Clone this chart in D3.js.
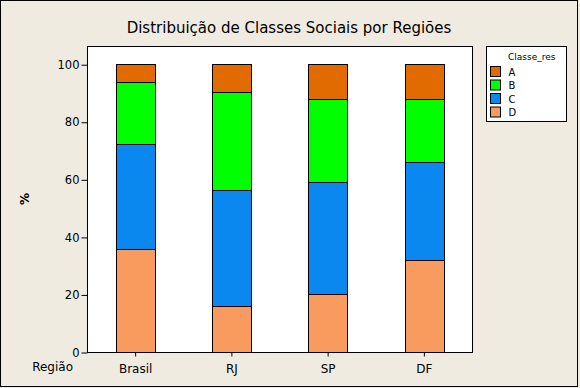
<!DOCTYPE html>
<html>
<head>
<meta charset="utf-8">
<script src="https://cdn.jsdelivr.net/npm/d3@7"></script>
<style>
  html, body { margin: 0; padding: 0; background: #F0EBE1; }
  svg { display: block; }
  text { font-family: "DejaVu Sans", sans-serif; fill: #000; }
</style>
</head>
<body>
<svg id="chart" width="580" height="388"></svg>
<script>
// ---- data ----
const regions = ["Brasil", "RJ", "SP", "DF"];
const classes = ["A", "B", "C", "D"];           // legend order
const stackOrder = ["D", "C", "B", "A"];        // bottom to top
const valuesA = [6.2, 9.7, 12.1, 12.1];
const valuesB = [21.6, 34.1, 28.9, 21.9];
const valuesC = [36.5, 40.2, 38.9, 34.0];
const valuesD = [35.7, 16.0, 20.1, 32.0];
const yTicks = [0, 20, 40, 60, 80, 100];
const colors = { A: "#E26B00", B: "#00FF00", C: "#0A88F0", D: "#F99A5E" };

const rows = regions.map((r, i) => ({ region: r, A: valuesA[i], B: valuesB[i], C: valuesC[i], D: valuesD[i] }));

(function () {
const svg = d3.select("#chart");
const W = 580, H = 388;

// background + outer frame
svg.append("rect").attr("x", 0).attr("y", 0).attr("width", W).attr("height", H).attr("fill", "#F0EBE1");
svg.append("rect").attr("x", 0.5).attr("y", 0.5).attr("width", 577).attr("height", 386)
  .attr("fill", "none").attr("stroke", "#000").attr("stroke-width", 1);

// plot area
const pL = 87, pR = 472, pT = 45.5, pB = 352;
const x = d3.scaleBand().domain(regions).range([pL, pR]).paddingInner(0.6).paddingOuter(0.3);
const y = d3.scaleLinear().domain([0, 106.5]).range([pB, pT]);

svg.append("rect").attr("x", pL + 0.5).attr("y", Math.round(pT) + 0.5)
  .attr("width", pR - pL).attr("height", pB - Math.round(pT))
  .attr("fill", "#fff").attr("stroke", "#000").attr("stroke-width", 1);

// stacked bars
const stack = d3.stack().keys(stackOrder)(rows);
svg.append("g").selectAll("g").data(stack).join("g")
  .attr("fill", d => colors[d.key])
  .selectAll("rect").data(d => d).join("rect")
  .attr("x", d => Math.round(x(d.data.region)) + 0.5)
  .attr("y", d => Math.round(y(d[1])) + 0.5)
  .attr("width", Math.round(x.bandwidth()))
  .attr("height", d => Math.round(y(d[0])) - Math.round(y(d[1])))
  .attr("stroke", "#000").attr("stroke-width", 1);

// y axis
const yAxis = d3.axisLeft(y).tickValues(yTicks).tickSize(6).tickPadding(2).tickSizeOuter(0);
const gy = svg.append("g").attr("transform", `translate(${pL + 0.5},0.5)`).call(yAxis);
gy.select(".domain").remove();
gy.selectAll("line").attr("stroke", "#000");
gy.selectAll("text").attr("font-size", 11.5).attr("font-family", "DejaVu Sans");

// x axis
const xAxis = d3.axisBottom(x).tickSize(4).tickPadding(8).tickSizeOuter(0);
const gx = svg.append("g").attr("transform", `translate(0.5,${pB + 0.5})`).call(xAxis);
gx.select(".domain").remove();
gx.selectAll("line").attr("stroke", "#000");
gx.selectAll("text").attr("font-size", 12).attr("font-family", "DejaVu Sans");

// axis labels
svg.append("text").attr("x", 73).attr("y", 371).attr("text-anchor", "end")
  .attr("font-size", 12).text("Região");
svg.append("text").attr("transform", "translate(29,199) rotate(-90)")
  .attr("text-anchor", "middle").attr("font-size", 12).attr("font-weight", "bold").text("%");

// title
svg.append("text").attr("x", 289).attr("y", 33).attr("text-anchor", "middle")
  .attr("font-size", 15).text("Distribuição de Classes Sociais por Regiões");

// legend
const lg = svg.append("g");
lg.append("rect").attr("x", 486.5).attr("y", 46.5).attr("width", 80).attr("height", 75)
  .attr("fill", "#fff").attr("stroke", "#000");
lg.append("text").attr("x", 508).attr("y", 60).attr("font-size", 9).text("Classe_res");
const items = lg.selectAll("g.item").data(classes).join("g").attr("class", "item")
  .attr("transform", (d, i) => `translate(490.5,${66.5 + i * 13.5})`);
items.append("rect").attr("width", 10).attr("height", 10)
  .attr("fill", d => colors[d]).attr("stroke", "#000");
items.append("text").attr("x", 18).attr("y", 9).attr("font-size", 10).text(d => d);
})();
</script>
</body>
</html>
